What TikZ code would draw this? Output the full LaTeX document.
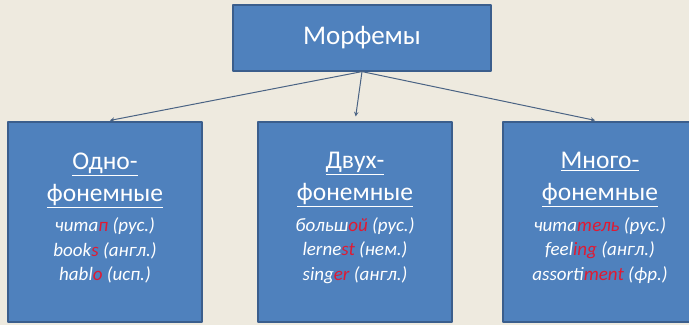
\documentclass[tikz,border=0pt]{standalone}
\usepackage{fontspec}
\setmainfont{Carlito}
\usepackage{xcolor}
\usetikzlibrary{arrows,positioning}
\definecolor{eeeadf}{rgb}{0.933,0.918,0.875}
\definecolor{ddfrbd}{rgb}{0.31,0.506,0.741}
\definecolor{bbpeek}{rgb}{0.231,0.369,0.549}
\definecolor{aqwerr}{rgb}{0.29,0.388,0.518}
\definecolor{rrqqtt}{rgb}{0.878,0.102,0.2}
\newcommand{\rmorph}[1]{\textcolor{rrqqtt}{#1}}

\begin{document}
\begin{tikzpicture}[line cap=round,line join=round,>=stealth,x=1pt,y=1pt,
  box/.style={draw=bbpeek,line width=1.2pt,fill=ddfrbd,text=white,minimum width=194pt,minimum height=200pt},
  hdr/.style={text=white,align=center,font=\fontsize{25.5}{32}\selectfont,inner sep=0pt},
  ex/.style={text=white,align=center,font=\itshape\fontsize{19}{24.5}\selectfont,inner sep=0pt},
  arr/.style={->,color=aqwerr,line width=1pt,shorten >=5pt}]
\fill[color=eeeadf] (0,0) rectangle (689,325);
\useasboundingbox (0,0) rectangle (689,325);
\node[box,minimum width=258pt,minimum height=66pt,font=\fontsize{27}{30}\selectfont] (morf) at (362,287) {Морфемы};
\node[box] (odno) at (105,103) {};
\node[box] (dvuh) at (355,103) {};
\node[box] (mnogo) at (600,103) {};
\draw[arr] (morf.south) -- (odno.north);
\draw[arr] (morf.south) -- (dvuh.north);
\draw[arr] (morf.south) -- (mnogo.north);
% headings and examples
\node[hdr,below=31pt of odno.north] (odnoh) {\underline{Одно-}\\\underline{фонемные}};
\node[ex,below=10pt of odnoh] (odnoe) {чита\rmorph{п} (рус.)\\book\rmorph{s} (англ.)\\habl\rmorph{o} (исп.)};
\node[hdr,below=31pt of dvuh.north] (dvuhh) {\underline{Двух-}\\\underline{фонемные}};
\node[ex,below=10pt of dvuhh] (dvuhe) {больш\rmorph{ой} (рус.)\\lerne\rmorph{st} (нем.)\\sing\rmorph{er} (англ.)};
\node[hdr,below=31pt of mnogo.north] (mnogoh) {\underline{Много-}\\\underline{фонемные}};
\node[ex,below=10pt of mnogoh] (mnogoe) {чита\rmorph{тель} (рус.)\\feel\rmorph{ing} (англ.)\\assorti\rmorph{ment} (фр.)};
\end{tikzpicture}
\end{document}
